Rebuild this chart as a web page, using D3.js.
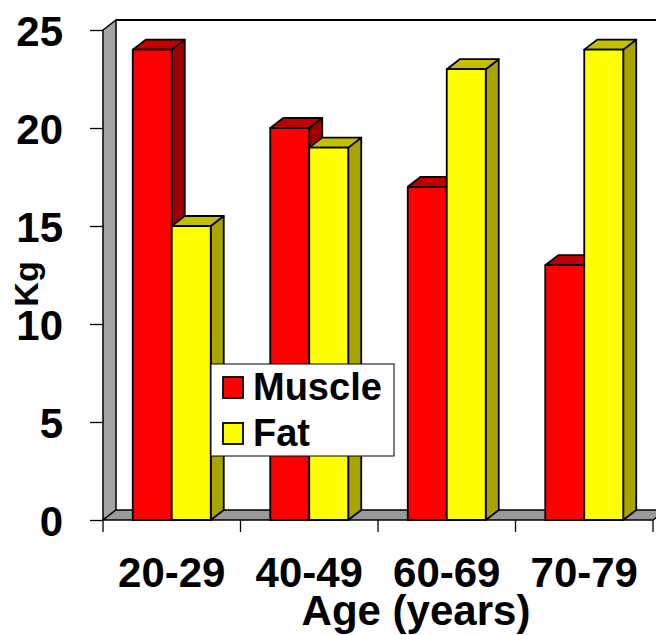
<!DOCTYPE html>
<html>
<head>
<meta charset="utf-8">
<script src="https://cdn.jsdelivr.net/npm/d3@7"></script>
<style>
  body { margin: 0; background: #fff; }
  text { font-family: "Liberation Sans", Arial, sans-serif; font-weight: bold; fill: #000; }
</style>
</head>
<body>
<script>
const ageGroups = ['20-29', '40-49', '60-69', '70-79']
const seriesNames = ['Muscle', 'Fat']
const muscle = [24, 20, 17, 13]
const fat = [15, 19, 23, 24]
const yTicks = [0, 5, 10, 15, 20, 25]

const w = 656
const h = 635
const depthX = 13
const depthY = 10

const colors = {
    Muscle: { front: '#ff0000', top: '#c00000', side: '#a00000' },
    Fat: { front: '#ffff00', top: '#c4c000', side: '#a8a400' }
}

const rows = ageGroups.map((g, i) => ({ group: g, Muscle: muscle[i], Fat: fat[i] }))

const svg = d3.select('body')
    .append('svg')
    .attr('width', w)
    .attr('height', h)

const xScale = d3.scaleBand()
    .domain(ageGroups)
    .range([103, 653])

const xSub = d3.scaleBand()
    .domain(seriesNames)
    .range([0, xScale.bandwidth()])
    .paddingOuter(0.763)

const yScale = d3.scaleLinear()
    .domain([0, 25])
    .range([520, 30])

const y0 = yScale(0)
const xLeft = xScale.range()[0]
const xRight = xScale.range()[1]

// walls
svg.append('polygon')
    .attr('points', [[xLeft, yScale(25)], [xLeft + depthX, yScale(25) - depthY], [xLeft + depthX, y0 - depthY], [xLeft, y0]].join(' '))
    .attr('fill', '#a4a4a4')
    .attr('stroke', '#000')
    .attr('stroke-width', 1.5)

svg.append('polygon')
    .attr('points', [[xLeft, y0], [xLeft + depthX, y0 - depthY], [xRight + depthX, y0 - depthY], [xRight, y0]].join(' '))
    .attr('fill', '#999')
    .attr('stroke', '#000')
    .attr('stroke-width', 1.5)

svg.append('line')
    .attr('x1', xLeft + depthX).attr('x2', w + 20)
    .attr('y1', yScale(25) - depthY).attr('y2', yScale(25) - depthY)
    .attr('stroke', '#000')
    .attr('stroke-width', 2)

// y axis
const yAxis = svg.append('g')
    .attr('transform', `translate(${xLeft},0)`)
    .call(d3.axisLeft(yScale).tickValues(yTicks).tickSize(13).tickSizeOuter(0).tickPadding(27))
yAxis.select('.domain').remove()
yAxis.selectAll('line').attr('stroke', '#000').attr('stroke-width', 1.3)
yAxis.selectAll('text')
    .attr('font-size', 42)
    .attr('font-family', '"Liberation Sans", Arial, sans-serif')
    .attr('font-weight', 'bold')
    .attr('dy', '0.38em')

// x ticks at category boundaries
const bounds = ageGroups.map(g => xScale(g)).concat([xRight])
svg.selectAll('.xtick')
    .data(bounds)
    .enter()
    .append('line')
    .attr('x1', d => d).attr('x2', d => d)
    .attr('y1', y0).attr('y2', y0 + 12)
    .attr('stroke', '#000')
    .attr('stroke-width', 1.3)

svg.selectAll('.xlabel')
    .data(ageGroups)
    .enter()
    .append('text')
    .attr('x', d => xScale(d) + xScale.bandwidth() / 2)
    .attr('y', 587)
    .attr('text-anchor', 'middle')
    .attr('font-size', 42)
    .text(d => d)

// bars
const bars = []
rows.forEach(r => seriesNames.forEach(s => bars.push({ group: r.group, series: s, value: r[s] })))

const barG = svg.selectAll('.bar')
    .data(bars)
    .enter()
    .append('g')
    .each(function (d) {
        const g = d3.select(this)
        const x0 = xScale(d.group) + xSub(d.series)
        const x1 = x0 + xSub.bandwidth()
        const yt = yScale(d.value)
        const c = colors[d.series]
        g.append('polygon')
            .attr('points', [[x1, yt], [x1 + depthX, yt - depthY], [x1 + depthX, y0 - depthY], [x1, y0]].join(' '))
            .attr('fill', c.side)
        g.append('polygon')
            .attr('points', [[x0, yt], [x0 + depthX, yt - depthY], [x1 + depthX, yt - depthY], [x1, yt]].join(' '))
            .attr('fill', c.top)
        g.append('rect')
            .attr('x', x0)
            .attr('y', yt)
            .attr('width', x1 - x0)
            .attr('height', y0 - yt)
            .attr('fill', c.front)
        g.selectAll('polygon, rect')
            .attr('stroke', '#000')
            .attr('stroke-width', 1.8)
            .attr('stroke-linejoin', 'round')
    })

// axis titles
svg.append('text')
    .attr('transform', 'translate(38,284) rotate(-90)')
    .attr('text-anchor', 'middle')
    .attr('font-size', 34)
    .text('Kg')

svg.append('text')
    .attr('x', 416)
    .attr('y', 625)
    .attr('text-anchor', 'middle')
    .attr('font-size', 42)
    .text('Age (years)')

// legend
const legend = svg.append('g')
legend.append('rect')
    .attr('x', 211).attr('y', 364)
    .attr('width', 183).attr('height', 92)
    .attr('fill', '#fff')
    .attr('stroke', '#000')
    .attr('stroke-width', 1)

const items = legend.selectAll('.item')
    .data(seriesNames)
    .enter()
    .append('g')
    .attr('transform', (d, i) => `translate(223,${377 + i * 46})`)
items.append('rect')
    .attr('width', 20).attr('height', 21)
    .attr('fill', d => colors[d].front)
    .attr('stroke', '#000')
    .attr('stroke-width', 1.8)
items.append('text')
    .attr('x', 30)
    .attr('y', 23)
    .attr('font-size', 38)
    .text(d => d)
</script>
</body>
</html>
